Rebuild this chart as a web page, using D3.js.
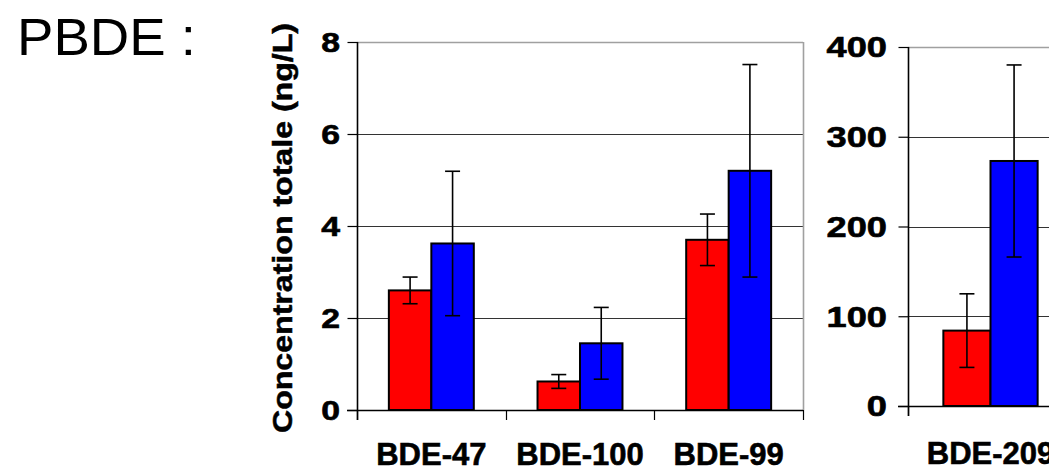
<!DOCTYPE html>
<html>
<head>
<meta charset="utf-8">
<script src="https://cdn.jsdelivr.net/npm/d3@7"></script>
<style>
  body { margin: 0; background: #fff; }
  svg { display: block; font-family: "Liberation Sans", Arial, sans-serif; }
</style>
</head>
<body>
<div id="chart-container"></div>
<script>
// DATA
var series = ["rouge", "bleu"];
var seriesColors = ["#ff0000", "#0000ff"];

var categoriesLeft = ["BDE-47", "BDE-100", "BDE-99"];
var redLeft = [2.6, 0.62, 3.7];
var redLeftErr = [0.29, 0.15, 0.56];
var blueLeft = [3.62, 1.45, 5.2];
var blueLeftErr = [1.57, 0.78, 2.31];
var ticksLeft = [0, 2, 4, 6, 8];

var categoriesRight = ["BDE-209"];
var redRight = [84];
var redRightErr = [41];
var blueRight = [273];
var blueRightErr = [107];
var ticksRight = [0, 100, 200, 300, 400];

var width = 1049,
    height = 473;

var svg = d3.select("#chart-container")
  .append("svg")
    .attr("width", width)
    .attr("height", height);

// TITLE AT THE TOP LEFT
svg.append("text")
  .attr("transform", "translate(17,55) scale(1.07,1)")
  .style("font-size", "51px")
  .text("PBDE :");

// Y AXIS TITLE (BOLD, A BIT STRETCHED ALONG ITS LENGTH)
svg.append("text")
  .attr("transform", "translate(292,433) rotate(-90)")
  .attr("textLength", 410)
  .attr("lengthAdjust", "spacingAndGlyphs")
  .style("font-size", "28px")
  .style("font-weight", "bold")
  .style("stroke", "#000")
  .style("stroke-width", 0.5)
  .text("Concentration totale (ng/L)");

function drawPanel(p){
  var x0 = d3.scaleBand()
    .domain(p.categories)
    .range([p.left, p.right])
    .padding(0);

  var x1 = d3.scaleBand()
    .domain(series)
    .range([0, x0.bandwidth()])
    .paddingInner(0)
    .paddingOuter(0.75);

  var y = d3.scaleLinear()
    .domain([0, p.ticks[p.ticks.length - 1]])
    .range([p.bottom, p.top]);

  var g = svg.append("g");

  // GRIDLINES (TOP ONE IS THE GREY BORDER)
  g.selectAll(".grid")
    .data(p.ticks.slice(1))
    .enter().append("line")
      .attr("x1", p.left)
      .attr("x2", p.right)
      .attr("y1", function(d){ return Math.round(y(d)) + 0.5; })
      .attr("y2", function(d){ return Math.round(y(d)) + 0.5; })
      .style("stroke", function(d, i){ return i === p.ticks.length - 2 ? "#a0a0a0" : "#333"; })
      .style("stroke-width", function(d, i){ return i === p.ticks.length - 2 ? 1.6 : 1; });

  if (p.rightBorder) {
    g.append("line")
      .attr("x1", p.right + 0.5).attr("x2", p.right + 0.5)
      .attr("y1", y(p.ticks[p.ticks.length - 1])).attr("y2", p.bottom)
      .style("stroke", "#a0a0a0")
      .style("stroke-width", 1.6);
  }

  // BARS
  var groups = g.selectAll(".cat")
    .data(p.categories.map(function(c, i){
      return [
        {cat: c, s: series[0], v: p.red[i], e: p.redErr[i], color: seriesColors[0]},
        {cat: c, s: series[1], v: p.blue[i], e: p.blueErr[i], color: seriesColors[1]}
      ];
    }))
    .enter().append("g")
      .attr("transform", function(d){ return "translate(" + x0(d[0].cat) + ",0)"; });

  groups.selectAll("rect")
    .data(function(d){ return d; })
    .enter().append("rect")
      .attr("x", function(d){ return x1(d.s); })
      .attr("width", x1.bandwidth())
      .attr("y", function(d){ return y(d.v); })
      .attr("height", function(d){ return p.bottom - y(d.v); })
      .style("fill", function(d){ return d.color; })
      .style("stroke", "#000")
      .style("stroke-width", 2);

  // ERROR BARS
  var err = groups.selectAll(".err")
    .data(function(d){ return d; })
    .enter().append("g");

  err.append("line")
    .attr("x1", function(d){ return x1(d.s) + x1.bandwidth() / 2; })
    .attr("x2", function(d){ return x1(d.s) + x1.bandwidth() / 2; })
    .attr("y1", function(d){ return y(d.v + d.e); })
    .attr("y2", function(d){ return y(d.v - d.e); })
    .style("stroke", "#000")
    .style("stroke-width", 1.6);

  [1, -1].forEach(function(sign){
    err.append("line")
      .attr("x1", function(d){ return x1(d.s) + x1.bandwidth() / 2 - 7.5; })
      .attr("x2", function(d){ return x1(d.s) + x1.bandwidth() / 2 + 7.5; })
      .attr("y1", function(d){ return y(d.v + sign * d.e); })
      .attr("y2", function(d){ return y(d.v + sign * d.e); })
      .style("stroke", "#000")
      .style("stroke-width", 1.6);
  });

  // Y AXIS
  var yAxis = d3.axisLeft(y)
    .tickValues(p.ticks)
    .tickSize(10)
    .tickFormat("");
  var yG = g.append("g")
    .attr("transform", "translate(" + (p.left + 0.5) + ",0)");
  yAxis(yG);
  yG.select(".domain").remove();
  yG.selectAll("line").style("stroke", "#000").style("stroke-width", 1.2);
  yG.append("line")
    .attr("y1", p.top).attr("y2", p.bottom + 10)
    .style("stroke", "#000").style("stroke-width", 1.6);

  // Y TICK LABELS (THEY LOOK WIDE IN THE PICTURE)
  g.selectAll(".ylab")
    .data(p.ticks)
    .enter().append("text")
      .attr("transform", function(d){
        return "translate(" + (p.left - p.labelGap) + "," + y(d) + ") scale(1.25,1)";
      })
      .attr("dy", "0.36em")
      .attr("text-anchor", "end")
      .style("font-size", p.labelSize + "px")
      .style("font-weight", "bold")
      .style("stroke", "#000")
      .style("stroke-width", 0.6)
      .text(function(d){ return d; });

  // X AXIS
  g.append("line")
    .attr("x1", p.left - 10).attr("x2", p.right)
    .attr("y1", p.bottom + 0.5).attr("y2", p.bottom + 0.5)
    .style("stroke", "#000").style("stroke-width", 1.6);

  var xAxis = d3.axisBottom(x0).tickSize(0).tickFormat("");
  var xG = g.append("g").attr("transform", "translate(0," + p.bottom + ")");
  xAxis(xG);
  xG.select(".domain").remove();

  g.selectAll(".xtick")
    .data(p.categories.map(function(c){ return x0(c); }).concat([p.right]))
    .enter().append("line")
      .attr("x1", function(d){ return Math.round(d) + 0.5; })
      .attr("x2", function(d){ return Math.round(d) + 0.5; })
      .attr("y1", p.bottom)
      .attr("y2", p.bottom + 10)
      .style("stroke", "#000")
      .style("stroke-width", 1.2);

  g.selectAll(".xlab")
    .data(p.categories)
    .enter().append("text")
      .attr("x", function(d){ return x0(d) + x0.bandwidth() / 2; })
      .attr("y", p.catY)
      .attr("text-anchor", "middle")
      .style("font-size", "31px")
      .style("font-weight", "bold")
      .style("stroke", "#000")
      .style("stroke-width", 0.6)
      .text(function(d){ return d; });
}

drawPanel({
  categories: categoriesLeft,
  red: redLeft, redErr: redLeftErr,
  blue: blueLeft, blueErr: blueLeftErr,
  ticks: ticksLeft,
  left: 357, right: 803, top: 42, bottom: 410,
  rightBorder: true,
  labelGap: 17, labelSize: 27,
  catY: 465
});

drawPanel({
  categories: categoriesRight,
  red: redRight, redErr: redRightErr,
  blue: blueRight, blueErr: blueRightErr,
  ticks: ticksRight,
  left: 908, right: 1073, top: 47, bottom: 406,
  rightBorder: false,
  labelGap: 21, labelSize: 29,
  catY: 464
});
</script>
</body>
</html>
